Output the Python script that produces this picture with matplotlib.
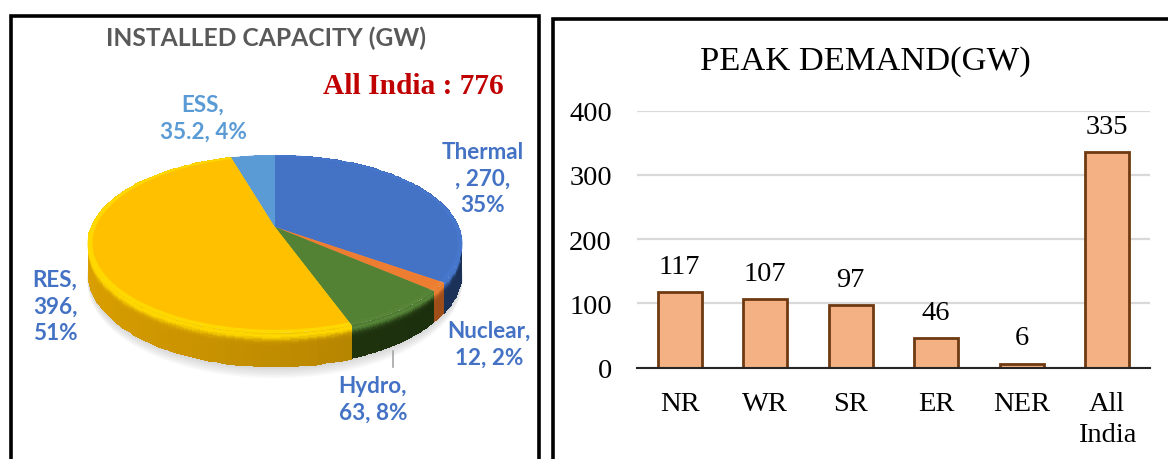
import numpy as np
import matplotlib
matplotlib.use('Agg')
import matplotlib.pyplot as plt
import matplotlib.colors as mcolors
from matplotlib.transforms import Transform

# Installed capacity
sources = ['Thermal', 'Nuclear', 'Hydro', 'RES', 'ESS']
capacity = [270, 12, 63, 396, 35.2]
top_colors = ['#4472C4', '#ED7D31', '#548235', '#FFC000', '#5B9BD5']
rim_colors = ['#4677CC', '#EE8234', '#568538', '#FFD800', '#5F9DD6']
side_colors = ['#1F3864', '#B4581C', '#20350F', '#C08C00', '#3A6EA5']

# Peak demand
regions = ['NR', 'WR', 'SR', 'ER', 'NER', 'All\nIndia']
demand = [117, 107, 97, 46, 6, 335]
yticks = [0, 100, 200, 300, 400]

W, H = 1168, 460
CX, CY, RX, RY, K = 275.0, 228.0, 184.0, 85.8, 0.191
DEPTH = 27.5


def project(u, v, drop=0.0):
    """Unit circle to image pixels, with a little perspective."""
    s = 1.0 / (1.0 + K * v)
    return CX + RX * u * s, CY - RY * v * s + drop * s


class Tilt(Transform):
    input_dims = 2
    output_dims = 2

    def transform_non_affine(self, values):
        values = np.asarray(values, dtype=float)
        x, y = project(values[:, 0], values[:, 1])
        return np.column_stack([x, y])


fig = plt.figure(figsize=(W / 100, H / 100), dpi=100)
ax = fig.add_axes([0, 0, 1, 1])

# pie face: outer ring first, then the face
rim, _ = ax.pie(capacity, startangle=90, counterclock=False, colors=rim_colors, radius=1.0)
face, _ = ax.pie(capacity, startangle=90, counterclock=False, colors=top_colors, radius=0.975)
tilt = Tilt() + ax.transData
for w in rim:
    w.set_transform(tilt)
    w.set_zorder(5)
for w in face:
    w.set_transform(tilt)
    w.set_zorder(6)

ax.set_aspect('auto')
ax.set_xlim(0, W)
ax.set_ylim(H, 0)
ax.axis('off')

# soft shadow under the disc
t = np.linspace(0, 2 * np.pi, 200)
for i in range(1, 8):
    sx, sy = project(np.cos(t) * 1.0, np.sin(t) * 1.0, DEPTH + 1.3 * i)
    ax.fill(sx, sy, color='#8C8C8C', alpha=0.05, lw=0, zorder=1)

# side wall of each slice, shaded by height and by angle
for w, col in zip(rim, side_colors):
    th = np.radians(np.linspace(w.theta1, w.theta2, 80))
    drops = np.linspace(0, 1, 30)
    TH, D = np.meshgrid(th, drops, indexing='ij')
    X, Y = project(np.cos(TH), np.sin(TH), D * DEPTH)
    base = np.array(mcolors.to_rgb(col))
    bright = np.array(mcolors.to_rgb(w.get_facecolor()))
    tc = 0.5 * (th[:-1] + th[1:])
    dc = 0.5 * (drops[:-1] + drops[1:])
    shade = 1.14 - 0.28 * (np.cos(tc) + 1) / 2
    glow = np.exp(-((dc - 0.08) / 0.14) ** 2)
    rgb = np.zeros((len(tc), len(dc), 3))
    for i in range(len(tc)):
        for j in range(len(dc)):
            rgb[i, j] = np.clip(base * shade[i] * (1 - glow[j]) + bright * glow[j], 0, 1)
    ax.pcolormesh(X, Y, rgb, shading='flat', zorder=3, rasterized=True, antialiased=False)

# leader line for Hydro
ax.plot([393, 393], [352, 368], color='#A6A6A6', lw=1.2, zorder=7)

# labels
label_kw = dict(family=['Lato', 'DejaVu Sans'], fontweight='bold', fontsize=16.2,
                ha='center', va='center', color='#4472C4', zorder=8, linespacing=1.35)
ax.text(266, 38, 'INSTALLED CAPACITY (GW)', family=['Lato', 'DejaVu Sans'],
        fontweight='bold', fontsize=17.7, color='#595959', ha='center', va='center')
ax.text(413, 87, 'All India : 776', family='Liberation Serif', fontweight='bold',
        fontsize=21.2, color='#C00000', ha='center', va='center')
ax.text(203, 119, f'{sources[4]},\n{capacity[4]}, 4%', **{**label_kw, 'color': '#5B9BD5'})
ax.text(483, 179, f'{sources[0]}\n, {capacity[0]},\n35%', **label_kw)
ax.text(55, 307, f'{sources[3]},\n{capacity[3]},\n51%', **label_kw)
ax.text(489, 345, f'{sources[1]},\n{capacity[1]}, 2%', **label_kw)
ax.text(373, 400, f'{sources[2]},\n{capacity[2]}, 8%', **label_kw)

# panel frames, open at the bottom
for px, py, right in [(11, 17, 539), (553, 20, W + 5)]:
    ax.plot([px, px, right, right], [H + 5, py, py, H + 5], color='black', lw=2.6,
            solid_joinstyle='miter', zorder=10)

# peak demand bars
ax2 = fig.add_axes([637 / W, 1 - 368.5 / H, (1150 - 637) / W, (368.5 - 111.7) / H])
ax2.patch.set_alpha(0)
x = np.arange(len(regions))
bars = ax2.bar(x, demand, width=0.51, color='#F4B183', edgecolor='#6E3A12', linewidth=2.0, zorder=3)
ax2.bar_label(bars, labels=[str(v) for v in demand], padding=9.5, fontsize=20.5,
              family='Liberation Serif')
ax2.set_xlim(-0.5, len(regions) - 0.5)
ax2.set_ylim(0, 400)
ax2.set_yticks(yticks)
ax2.set_xticks(x, regions)
ax2.yaxis.grid(True, color='#D9D9D9', lw=1.6, zorder=0)
ax2.set_axisbelow(True)
for s in ['top', 'left', 'right']:
    ax2.spines[s].set_visible(False)
ax2.spines['bottom'].set_color('#262626')
ax2.spines['bottom'].set_linewidth(1.5)
ax2.spines['bottom'].set_zorder(4)
ax2.tick_params(length=0)
ax2.tick_params(axis='y', pad=18, labelsize=20.5)
ax2.tick_params(axis='x', pad=17, labelsize=20.5)
for lab in ax2.get_xticklabels() + ax2.get_yticklabels():
    lab.set_family('Liberation Serif')
for lab in ax2.get_xticklabels():
    lab.set_linespacing(1.3)

ax.text(865, 62, 'PEAK DEMAND(GW)', family='Liberation Serif', fontsize=24.8,
        ha='center', va='center', color='black')

fig.savefig('out.png', dpi=100)
